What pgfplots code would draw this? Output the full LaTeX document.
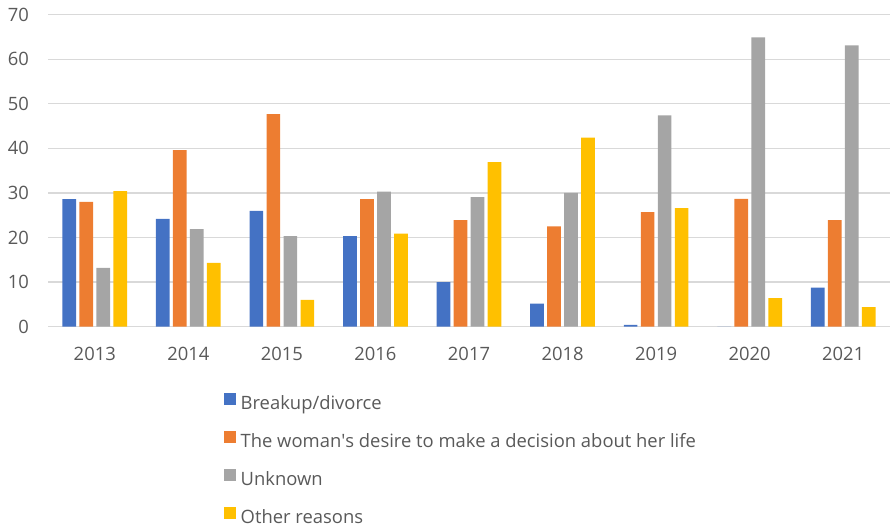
\documentclass[border=0pt]{standalone}
\usepackage{pgfplots}
\pgfplotsset{compat=1.18}
\usepackage{fontspec}
\setmainfont{Open Sans}
\definecolor{cA}{HTML}{4472C4}
\definecolor{cB}{HTML}{ED7D31}
\definecolor{cC}{HTML}{A5A5A5}
\definecolor{cD}{HTML}{FFC000}
\definecolor{txt}{HTML}{595959}
\definecolor{grd}{HTML}{D9D9D9}
\begin{document}
\begin{tikzpicture}
\useasboundingbox (0pt,0pt) rectangle (890pt,531pt);
\begin{axis}[
  at={(48pt,204.3pt)}, anchor=south west,
  scale only axis, width=842pt, height=312pt,
  xmin=-0.5, xmax=8.5, ymin=0, ymax=70,
  ytick={0,10,...,70},
  xtick={0,...,8},
  xticklabels={2013,2014,2015,2016,2017,2018,2019,2020,2021},
  ymajorgrids, grid style={color=grd, line width=1.3pt},
  axis line style={draw=none},
  major tick length=0pt,
  /pgf/number format/assume math mode=true,
  tick label style={font=\fontsize{18.4}{21}\selectfont, text=txt, inner sep=0pt},
  yticklabel shift=19pt,
  xticklabel shift=20pt,
  ybar=3.3pt, bar width=13.7pt,
  legend style={at={(0.209,-0.2125)}, anchor=north west, draw=none, fill=none,
    inner sep=0pt, outer sep=0pt, row sep=18pt, column sep=5pt,
    nodes={inner sep=0pt, text height=13pt, text depth=3.5pt, font=\fontsize{18.4}{21}\selectfont, text=txt}},
  legend cell align=left,
  legend image code/.code={\fill[#1] (0pt,0pt) rectangle (11.7pt,11.7pt);},
]
\addplot[fill=cA, draw=none] coordinates {(0,28.6) (1,24.2) (2,26.0) (3,20.3) (4,10.0) (5,5.2) (6,0.4) (7,0) (8,8.75)};
\addplot[fill=cB, draw=none] coordinates {(0,28.0) (1,39.6) (2,47.7) (3,28.6) (4,23.9) (5,22.5) (6,25.7) (7,28.7) (8,23.9)};
\addplot[fill=cC, draw=none] coordinates {(0,13.2) (1,21.9) (2,20.3) (3,30.3) (4,29.1) (5,30.0) (6,47.4) (7,64.9) (8,63.1)};
\addplot[fill=cD, draw=none] coordinates {(0,30.4) (1,14.3) (2,6.0) (3,20.9) (4,36.9) (5,42.4) (6,26.6) (7,6.4) (8,4.4)};
\legend{Breakup/divorce, The woman\textquotesingle s desire to make a decision about her life, Unknown, Other reasons}
\end{axis}
\end{tikzpicture}
\end{document}
